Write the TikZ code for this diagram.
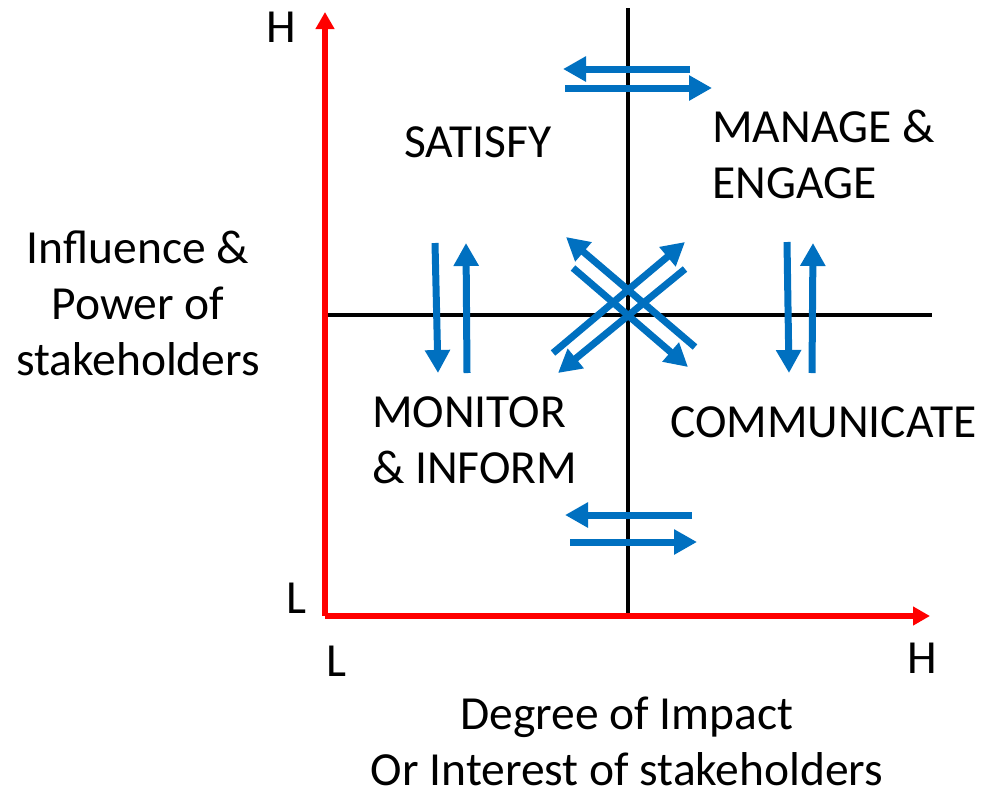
\documentclass[tikz,border=0pt]{standalone}
\usepackage{fontspec}
\setmainfont{Carlito}
\usetikzlibrary{arrows.meta}
\definecolor{flowblue}{HTML}{0070C0}
\tikzset{
  flow/.style={flowblue,line width=7pt,-{Triangle[length=23pt,width=24pt]}},
  axis/.style={red,line width=5.5pt,-{Triangle[length=17pt,width=18pt]}},
  quad/.style={black,line width=4.5pt},
  lbl/.style={anchor=base,inner sep=0pt,font=\fontsize{47.5}{56}\selectfont},
}
\begin{document}
\begin{tikzpicture}[x=1pt,y=-1pt]
\useasboundingbox (0,0) rectangle (995,796);
% axes
\coordinate (O) at (325,616);
\coordinate (ytop) at (325,12);
\coordinate (xend) at (930,616);
\coordinate (vtop) at (628,8);
\coordinate (vbot) at (628,616);
\coordinate (hleft) at (325,315);
\coordinate (hright) at (932,315);
\draw[quad] (vtop) -- (vbot);
\draw[quad] (hleft) -- (hright);
\draw[axis] (O) -- (ytop);
\draw[axis] (O) -- (xend);
% flows between quadrants
\foreach \n/\a/\b in {tl/{690,69}/{563,69},tr/{565,88}/{712,88},
  bl/{692,515}/{565,515},br/{570,542}/{697,542},
  ld/{435,243}/{438,373},lu/{467,373}/{466,243},
  rd/{787,242}/{789,373},ru/{812,373}/{813,243},
  nw/{695,347}/{566,237},se/{573,268}/{688,367},
  ne/{553,353}/{685,242},sw/{685,269}/{558,373}} {
  \coordinate (\n s) at (\a);
  \coordinate (\n e) at (\b);
  \draw[flow] (\n s) -- (\n e);
}
% quadrant labels (base = last line)
\node[lbl] (satisfy) at (478,157) {SATISFY};
\node[lbl,align=left,anchor=base west] (manage) at (712,198) {MANAGE \&\\ENGAGE};
\node[lbl,align=left,anchor=base west] (monitor) at (372,483) {MONITOR\\\& INFORM};
\node[lbl,anchor=base west] (communicate) at (670,437) {COMMUNICATE};
% axis labels
\node[lbl] (yH) at (281,42) {H};
\node[lbl] (yL) at (296,613) {L};
\node[lbl] (xL) at (336,676) {L};
\node[lbl] (xH) at (922,673) {H};
\node[lbl,align=center] (ytitle) at (138,375) {Influence \&\\Power of\\stakeholders};
\node[lbl,align=center] (xtitle) at (627,785) {Degree of Impact\\Or Interest of stakeholders};
\end{tikzpicture}
\end{document}
